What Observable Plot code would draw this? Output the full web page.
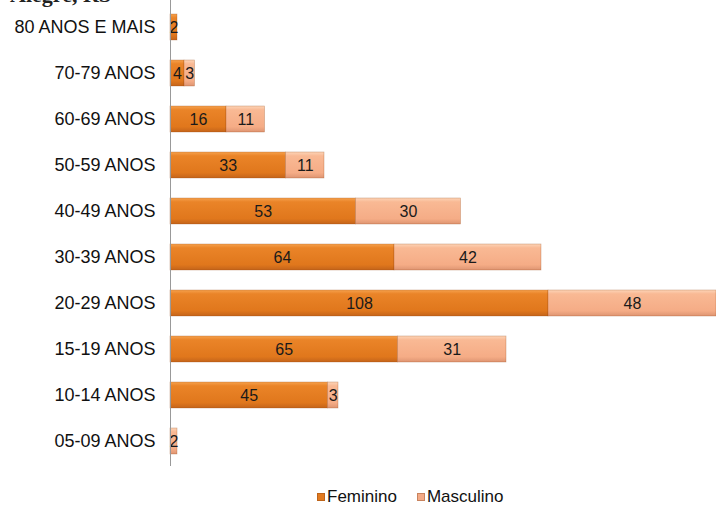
<!DOCTYPE html>
<html><head><meta charset="utf-8">
<script src="https://cdn.jsdelivr.net/npm/d3@7"></script>
<script src="https://cdn.jsdelivr.net/npm/@observablehq/plot@0.6"></script>
<style>
body{margin:0;background:#fff;width:716px;height:506px;position:relative;overflow:hidden;font-family:"Liberation Sans",Arial,sans-serif}
#title{position:absolute;left:10px;top:-17px;font-family:"Liberation Serif","DejaVu Serif",serif;font-weight:bold;font-size:22px;line-height:24px;color:#222;white-space:nowrap}
#chart{position:absolute;left:0;top:0}
#legend{position:absolute;top:487px;left:317px;font-size:17px;color:#111;display:flex;gap:20px;align-items:center;line-height:20px}
.sw{display:inline-block;width:8px;height:8px;margin-right:2px;vertical-align:middle;position:relative;top:-1px;box-shadow:inset 0 0 0 1px rgba(120,60,20,0.35)}
</style></head><body>
<div id="title">Alegre, RS</div>
<div id="chart"></div>
<div id="legend"></div>
<script>
const ages = ["80 ANOS E MAIS","70-79 ANOS","60-69 ANOS","50-59 ANOS","40-49 ANOS","30-39 ANOS","20-29 ANOS","15-19 ANOS","10-14 ANOS","05-09 ANOS"];
const feminino = [2,4,16,33,53,64,108,65,45,0];
const masculino = [0,3,11,11,30,42,48,31,3,2];
const series = ["Feminino","Masculino"];
const swatch = ["#E27A1E","#F3AA86"];

const data = ages.flatMap((a,i)=>[
  {age:a, sex:series[0], value:feminino[i]},
  {age:a, sex:series[1], value:masculino[i]}
]);

const svg = Plot.plot({
  width: 716,
  height: 470,
  marginLeft: 170,
  marginRight: 0,
  marginTop: 4,
  marginBottom: 6,
  style: {fontFamily: '"Liberation Sans", Arial, sans-serif', background: "transparent"},
  x: {domain: [0, 156], axis: null},
  y: {domain: ages, padding: 0, label: null},
  color: {domain: series, range: ["url(#gF)", "url(#gM)"]},
  marks: [
    Plot.barX(data, Plot.stackX({
      x: "value", y: "age", fill: "sex", order: series,
      insetTop: 10, insetBottom: 10,
      stroke: "rgba(150,70,20,0.45)", strokeWidth: 0.6
    })),
    Plot.textX(data, Plot.stackX({
      x: "value", y: "age", z: "sex", order: series,
      text: d => d.value > 0 ? String(d.value) : "",
      fontSize: 16, fill: "#1a1a1a"
    })),
    Plot.ruleX([0], {stroke: "#999", strokeWidth: 1, insetTop: -4, insetBottom: -2}),
    Plot.axisY({tickSize: 0, tickPadding: 15, fontSize: 18, fill: "#111", label: null})
  ]
});

const defs = d3.select(svg).insert("defs", ":first-child");
function grad(id, stops) {
  const g = defs.append("linearGradient").attr("id", id)
    .attr("x1", 0).attr("y1", 0).attr("x2", 0).attr("y2", 1);
  stops.forEach(([o, c]) => g.append("stop").attr("offset", o).attr("stop-color", c));
}
grad("gF", [[0, "#F6A24E"], [0.15, "#EA8428"], [0.8, "#E0771C"], [1, "#C4641A"]]);
grad("gM", [[0, "#FDD5B8"], [0.15, "#F9B994"], [0.8, "#F5AC86"], [1, "#DE9572"]]);

document.getElementById("chart").appendChild(svg);

const legend = document.getElementById("legend");
series.forEach((s, i) => {
  const item = document.createElement("span");
  const sw = document.createElement("span");
  sw.className = "sw";
  sw.style.background = swatch[i];
  item.appendChild(sw);
  item.appendChild(document.createTextNode(s));
  legend.appendChild(item);
});
</script>
</body></html>
